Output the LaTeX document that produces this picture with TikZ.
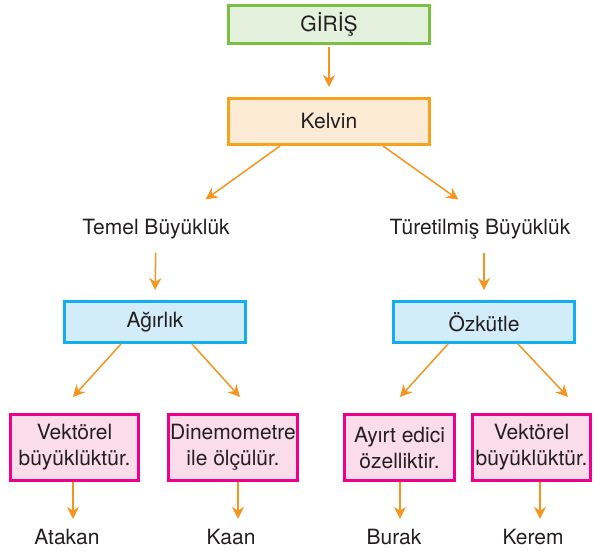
\documentclass[tikz,border=0pt]{standalone}
\usepackage{fontspec}
\setmainfont{TeX Gyre Heros}
\usetikzlibrary{arrows.meta}

\definecolor{girisline}{HTML}{7AC143}
\definecolor{girisfill}{HTML}{E4F1DC}
\definecolor{kelvinline}{HTML}{F8A11C}
\definecolor{kelvinfill}{HTML}{FDEBD5}
\definecolor{kavramline}{HTML}{12AEEF}
\definecolor{kavramfill}{HTML}{D3ECF9}
\definecolor{ozellikline}{HTML}{EC008C}
\definecolor{ozellikfill}{HTML}{FBDCE9}
\definecolor{okrenk}{HTML}{F7941E}
\definecolor{yazi}{HTML}{231F20}

\tikzset{
    kutu/.style={draw, line width=3pt, inner sep=2pt, text=yazi, font=\fontsize{21}{26}\selectfont, align=center},
    yazi/.style={inner sep=0pt, text height=15pt, text depth=0pt, text=yazi, font=\fontsize{21}{26}\selectfont},
    ok/.style={draw=okrenk, line width=1.5pt, -{Stealth[length=12pt, width=12pt, inset=4pt]}}
}

\begin{document}
\begin{tikzpicture}[x=1pt, y=-1pt]
    \useasboundingbox (0,0) rectangle (594,551);

    \node [kutu, draw=girisline, fill=girisfill, minimum width=201pt, minimum height=38pt] (giris) at (329,24.5) {GİRİŞ};
    \node [kutu, draw=kelvinline, fill=kelvinfill, minimum width=201pt, minimum height=46pt] (kelvin) at (329,121.5) {Kelvin};

    \node [yazi] (temel) at (156,227) {Temel Büyüklük};
    \node [yazi] (turetilmis) at (480,227) {Türetilmiş Büyüklük};

    \node [kutu, draw=kavramline, fill=kavramfill, minimum width=181pt, minimum height=41pt] (agirlik) at (155,322) {Ağırlık};
    \node [kutu, draw=kavramline, fill=kavramfill, minimum width=181pt, minimum height=41pt] (ozkutle) at (484,322) {Özkütle};

    \node [kutu, draw=ozellikline, fill=ozellikfill, minimum width=128pt, minimum height=66pt] (vektorel1) at (74.5,447.5) {Vektörel\\büyüklüktür.};
    \node [kutu, draw=ozellikline, fill=ozellikfill, minimum width=127pt, minimum height=66pt] (dinamometre) at (233,447.5) {Dinemometre\\ile ölçülür.};
    \node [kutu, draw=ozellikline, fill=ozellikfill, minimum width=110pt, minimum height=66pt] (ayirt) at (399.5,447.5) {Ayırt edici\\özelliktir.};
    \node [kutu, draw=ozellikline, fill=ozellikfill, minimum width=118pt, minimum height=66pt] (vektorel2) at (531.5,447.5) {Vektörel\\büyüklüktür.};

    \node [yazi] (atakan) at (67,537) {Atakan};
    \node [yazi] (kaan) at (231,537) {Kaan};
    \node [yazi] (burak) at (394,537) {Burak};
    \node [yazi] (kerem) at (533,537) {Kerem};

    \draw [ok, shorten <=2pt, shorten >=10pt] (giris) -- (kelvin);
    \draw [ok, shorten >=34pt] ([xshift=-49pt]kelvin.south) -- ([xshift=22pt]temel.north);
    \draw [ok, shorten >=34pt] ([xshift=54pt]kelvin.south) -- ([xshift=6pt]turetilmis.north);

    \draw [ok, shorten <=18pt, shorten >=10pt] (temel.south) -- (agirlik.north);
    \draw [ok, shorten <=18pt, shorten >=10pt] ([xshift=4pt]turetilmis.south) -- (ozkutle.north);

    \draw [ok, shorten >=21.6pt] ([xshift=-34pt]agirlik.south) -- ([xshift=-16pt]vektorel1.north);
    \draw [ok, shorten >=21.6pt] ([xshift=37pt]agirlik.south) -- ([xshift=21.5pt]dinamometre.north);
    \draw [ok, shorten >=21.6pt] ([xshift=-36pt]ozkutle.south) -- ([xshift=-14pt]ayirt.north);
    \draw [ok, shorten >=22pt] ([xshift=34pt]ozkutle.south) -- ([xshift=51.5pt]vektorel2.north);

    \draw [ok, shorten >=10.5pt] ([xshift=-1.5pt]vektorel1.south) -- ([xshift=6pt]atakan.north);
    \draw [ok, shorten >=10.5pt] ([xshift=5pt]dinamometre.south) -- ([xshift=7pt]kaan.north);
    \draw [ok, shorten >=10.5pt] ([xshift=0.5pt]ayirt.south) -- ([xshift=6pt]burak.north);
    \draw [ok, shorten >=10.5pt] ([xshift=8.5pt]vektorel2.south) -- ([xshift=7pt]kerem.north);

\end{tikzpicture}
\end{document}
